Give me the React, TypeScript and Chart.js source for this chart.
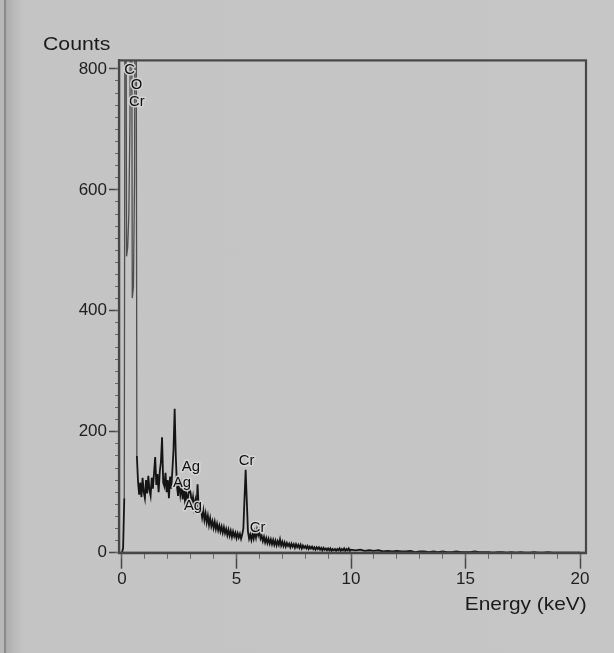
import { useEffect, useRef } from "react";
import { Chart, registerables } from "chart.js";

Chart.register(...registerables);

// EDS spectrum, channel calibration: two sections with their own start and step (keV)
const lowStartKeV = 0;
const lowStepKeV = 0.05;
// counts for 0.00 … 10.00 keV, one row per keV
const lowCounts = [
  0, 8, 90, 1500, 490, 505, 560, 720, 1500, 421, 440, 620, 1500, 160, 118, 96, 116, 92, 124, 100,
  90, 120, 98, 127, 104, 94, 124, 106, 132, 158, 112, 130, 100, 134, 150, 191, 116, 110, 132, 100,
  120, 90, 126, 106, 136, 170, 238, 160, 110, 94, 120, 96, 110, 88, 106, 86, 102, 80, 97, 106,
  98, 80, 92, 74, 86, 68, 113, 72, 68, 72, 58, 70, 54, 65, 50, 61, 46, 57, 44, 52,
  41, 51, 39, 48, 37, 45, 35, 43, 33, 42, 32, 39, 29, 38, 28, 36, 26, 35, 27, 33,
  24, 32, 25, 31, 23, 30, 40, 90, 137, 85, 35, 23, 30, 21, 31, 23, 34, 25, 38, 29,
  36, 23, 28, 19, 26, 17, 24, 16, 23, 15, 22, 14, 21, 13, 20, 12, 19, 13, 22, 12,
  18, 11, 17, 10, 16, 11, 15, 9, 15, 10, 14, 8, 14, 9, 13, 8, 13, 7, 12, 8,
  11, 7, 11, 6, 10, 7, 10, 6, 9, 5, 9, 6, 9, 5, 8, 4, 8, 5, 7, 4,
  7, 4, 7, 3, 6, 4, 6, 3, 6, 4, 7, 3, 6, 4, 7, 3, 6, 4, 7, 3,
  5,
];
const highStartKeV = 10.2;
const highStepKeV = 0.2;
// counts for 10.2 … 20.0 keV
const highCounts = [
  4, 5, 3, 4, 3, 4, 2, 3, 2, 3,
  2, 2, 3, 1, 2, 2, 1, 2, 1, 2,
  1, 1, 2, 1, 1, 1, 2, 1, 1, 1,
  0, 1, 1, 0, 1, 0, 1, 0, 0, 1,
  0, 0, 1, 0, 0, 0, 0, 0, 0, 0,
];

const energyTicks = [0, 5, 10, 15, 20];
const countTicks = [0, 200, 400, 600, 800];

// element markers: text, energy (keV), counts
const peakLabels = ["C", "O", "Cr", "Ag", "Ag", "Ag", "Cr", "Cr"];
const peakLabelKeV = [0.33, 0.63, 0.65, 3.01, 2.62, 3.1, 5.44, 5.92];
const peakLabelCounts = [798, 773, 745, 142, 115, 77, 151, 41];

const energyMin = -0.13;
const energyMax = 20.26;
const countMax = 814;

const FONT = '"Liberation Sans", Arial, Helvetica, sans-serif';
const AXIS_COLOR = "#474747";

function channelEnergy(start: number, step: number, i: number) {
  return Math.round((start + step * i) * 1000) / 1000;
}

const spectrum = [
  ...lowCounts.map((c, i) => ({ x: channelEnergy(lowStartKeV, lowStepKeV, i), y: c })),
  ...highCounts.map((c, i) => ({ x: channelEnergy(highStartKeV, highStepKeV, i), y: c })),
];

// steep, tall peak flanks print as thin grey strokes
const isTallSegment = (ctx: any) => Math.max(ctx.p0.parsed.y, ctx.p1.parsed.y) > 300;

const framePlugin = {
  id: "plotFrame",
  afterDatasetsDraw(chart: any) {
    const { ctx, chartArea: a } = chart;
    ctx.save();
    ctx.strokeStyle = AXIS_COLOR;
    ctx.lineWidth = 2.2;
    ctx.strokeRect(a.left, a.top, a.right - a.left, a.bottom - a.top);
    ctx.restore();
  },
};

const textPlugin = {
  id: "spectrumText",
  afterDraw(chart: any) {
    const { ctx, chartArea: a } = chart;
    const xs = chart.scales.x;
    const ys = chart.scales.y;
    ctx.save();

    // element markers
    ctx.font = `14px ${FONT}`;
    ctx.textAlign = "center";
    ctx.textBaseline = "middle";
    ctx.lineJoin = "round";
    peakLabels.forEach((t, i) => {
      const px = xs.getPixelForValue(peakLabelKeV[i]);
      const py = ys.getPixelForValue(peakLabelCounts[i]);
      ctx.save();
      ctx.translate(px, py);
      ctx.scale(1.06, 1);
      ctx.lineWidth = 3;
      ctx.strokeStyle = "rgba(214,214,214,0.9)";
      ctx.strokeText(t, 0, 0);
      ctx.fillStyle = "#0e0e0e";
      ctx.fillText(t, 0, 0);
      ctx.restore();
    });

    // axis titles
    ctx.fillStyle = "#1a1a1a";
    ctx.font = `19px ${FONT}`;
    ctx.textBaseline = "alphabetic";

    ctx.save();
    ctx.translate(a.left - 76, a.top - 10);
    ctx.scale(1.12, 1);
    ctx.textAlign = "left";
    ctx.fillText("Counts", 0, 0);
    ctx.restore();

    ctx.save();
    ctx.translate(a.right + 0.7, a.bottom + 57.3);
    ctx.scale(1.1, 1);
    ctx.textAlign = "right";
    ctx.fillText("Energy (keV)", 0, 0);
    ctx.restore();

    ctx.restore();
  },
};

export default function App() {
  const canvasRef = useRef<HTMLCanvasElement>(null);

  useEffect(() => {
    const canvas = canvasRef.current;
    if (!canvas) return;
    const chart = new Chart(canvas, {
      type: "line",
      data: {
        datasets: [
          {
            data: spectrum,
            xAxisID: "x",
            yAxisID: "y",
            borderColor: "#141414",
            borderWidth: 1.8,
            pointRadius: 0,
            fill: false,
            tension: 0,
            segment: {
              borderColor: (c: any) => (isTallSegment(c) ? "#4e4e4e" : undefined),
              borderWidth: (c: any) => (isTallSegment(c) ? 1.3 : undefined),
            },
          },
        ],
      },
      options: {
        animation: false,
        responsive: false,
        devicePixelRatio: 1,
        events: [],
        layout: { padding: { top: 60.4, right: 28, bottom: 0, left: 0 } },
        plugins: {
          legend: { display: false },
          tooltip: { enabled: false },
          title: { display: false },
        },
        scales: {
          x: {
            type: "linear",
            position: "bottom",
            weight: 1,
            min: energyMin,
            max: energyMax,
            afterBuildTicks: (s: any) => {
              s.ticks = energyTicks.map((v) => ({ value: v }));
            },
            afterFit: (s: any) => {
              s.height = 100.3;
            },
            ticks: {
              autoSkip: false,
              maxRotation: 0,
              padding: 0,
              color: "#1e1e1e",
              font: { family: FONT, size: 17 },
            },
            grid: {
              drawOnChartArea: false,
              color: AXIS_COLOR,
              tickLength: 16,
              tickWidth: 1.5,
            },
            border: { display: true, color: AXIS_COLOR, width: 2.2 },
          },
          xMinor: {
            type: "linear",
            position: "bottom",
            weight: 0,
            min: energyMin,
            max: energyMax,
            afterFit: (s: any) => {
              s.height = 0;
            },
            ticks: { display: false, stepSize: 1, includeBounds: false, autoSkip: false },
            grid: {
              drawOnChartArea: false,
              color: "#666666",
              tickLength: 6,
              tickWidth: 1,
            },
            border: { display: false },
          },
          y: {
            type: "linear",
            position: "left",
            weight: 1,
            min: 0,
            max: countMax,
            afterBuildTicks: (s: any) => {
              s.ticks = countTicks.map((v) => ({ value: v }));
            },
            afterFit: (s: any) => {
              s.width = 119;
            },
            ticks: {
              autoSkip: false,
              padding: 2,
              color: "#1e1e1e",
              font: { family: FONT, size: 17 },
            },
            grid: {
              drawOnChartArea: false,
              color: AXIS_COLOR,
              tickLength: 10,
              tickWidth: 1.5,
            },
            border: { display: true, color: AXIS_COLOR, width: 2.2 },
          },
          yMinor: {
            type: "linear",
            position: "left",
            weight: 0,
            min: 0,
            max: countMax,
            afterFit: (s: any) => {
              s.width = 0;
            },
            ticks: { display: false, stepSize: 20, includeBounds: false, autoSkip: false },
            grid: {
              drawOnChartArea: false,
              color: "#666666",
              tickLength: 4,
              tickWidth: 1,
            },
            border: { display: false },
          },
        },
      },
      plugins: [framePlugin, textPlugin],
    } as any);
    return () => chart.destroy();
  }, []);

  return (
    <div
      style={{
        position: "absolute",
        left: 0,
        top: 0,
        width: 614,
        height: 653,
        overflow: "hidden",
        background:
          "linear-gradient(to right, #b8b8b8 0px, #b8b8b8 4px, #8a8a8a 4px, #8a8a8a 6px, #acacac 6px, #bababa 14px, #c4c4c4 24px, #c6c6c6 100%)",
      }}
    >
      <canvas
        ref={canvasRef}
        width={614}
        height={653}
        style={{ display: "block", width: 614, height: 653 }}
      />
    </div>
  );
}
